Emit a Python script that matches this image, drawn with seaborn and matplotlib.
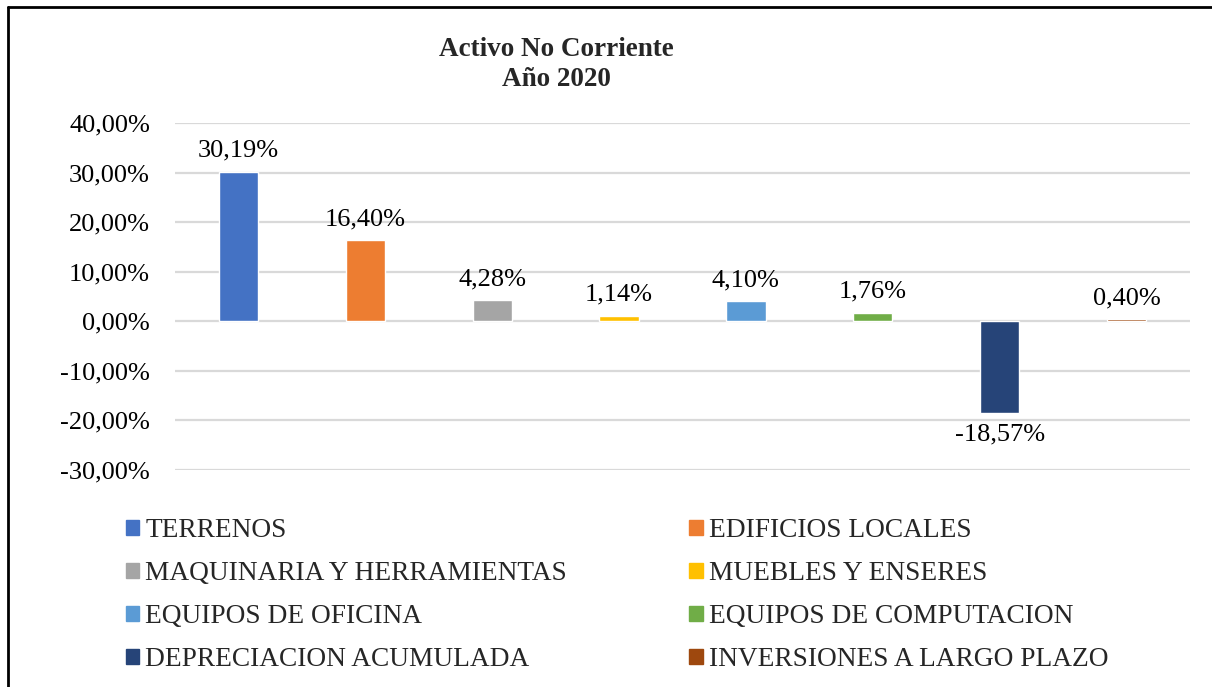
import numpy as np
import seaborn as sns
import matplotlib.pyplot as plt
from matplotlib.lines import Line2D
from matplotlib.ticker import FuncFormatter

categories = ['TERRENOS', 'EDIFICIOS LOCALES', 'MAQUINARIA Y HERRAMIENTAS',
              'MUEBLES Y ENSERES', 'EQUIPOS DE OFICINA', 'EQUIPOS DE COMPUTACION',
              'DEPRECIACION ACUMULADA', 'INVERSIONES A LARGO PLAZO']
values = [30.19, 16.40, 4.28, 1.14, 4.10, 1.76, -18.57, 0.40]
colors = ['#4472C4', '#ED7D31', '#A5A5A5', '#FFC000',
          '#5B9BD5', '#70AD47', '#264478', '#9E480E']
yticks = [-30, -20, -10, 0, 10, 20, 30, 40]


def pct(v):
    return f'{v:.2f}%'.replace('.', ',')


sns.set_theme(style='white')
plt.rcParams['font.family'] = ['Liberation Serif', 'DejaVu Serif']

fig = plt.figure(figsize=(12.12, 6.87), dpi=100)
ax = fig.add_axes([175 / 1212, 1 - 470 / 687, (1190 - 175) / 1212, (470 - 123) / 687])

sns.barplot(x=categories, y=values, hue=categories, palette=colors,
            width=0.31, dodge=False, legend=False, ax=ax, saturation=1)

for cont, v in zip(ax.containers, values):
    ax.bar_label(cont, labels=[pct(v)], padding=7, fontsize=19, color='#000000')

ax.set_ylim(-30, 40)
ax.set_yticks(yticks)
ax.yaxis.set_major_formatter(FuncFormatter(lambda v, p: pct(v)))
ax.set_xticks([])
ax.set_xlabel('')
ax.set_ylabel('')
ax.tick_params(axis='y', labelsize=19, length=0, pad=18, colors='#000000')
ax.grid(axis='y', color='#D9D9D9', linewidth=1.6)
ax.set_axisbelow(True)
for s in ax.spines.values():
    s.set_visible(False)

# legend is filled row by row, two per row
order = [0, 2, 4, 6, 1, 3, 5, 7]
handles = [plt.Rectangle((0, 0), 1, 1, color=colors[i]) for i in order]
labels = [categories[i] for i in order]
fig.legend(handles, labels, ncol=2, loc='upper left',
           bbox_to_anchor=(126 / 1212, 1 - 518 / 687), frameon=False,
           borderpad=0, borderaxespad=0,
           fontsize=19.7, handlelength=0.49, handleheight=0.49,
           handletextpad=0.22, columnspacing=4.47, labelspacing=0.66)

fig.text(0.459, 1 - 49 / 687, 'Activo No Corriente', ha='center', va='center',
         fontsize=19.5, fontweight='bold')
fig.text(0.459, 1 - 80 / 687, 'Año 2020', ha='center', va='center',
         fontsize=19.5, fontweight='bold')

fig.add_artist(Line2D([8 / 1212, 8 / 1212], [0, 1 - 7 / 687], color='black',
                      linewidth=2, transform=fig.transFigure))
fig.add_artist(Line2D([8 / 1212, 1], [1 - 7 / 687, 1 - 7 / 687], color='black',
                      linewidth=2, transform=fig.transFigure))

fig.savefig('out.png', dpi=100)
